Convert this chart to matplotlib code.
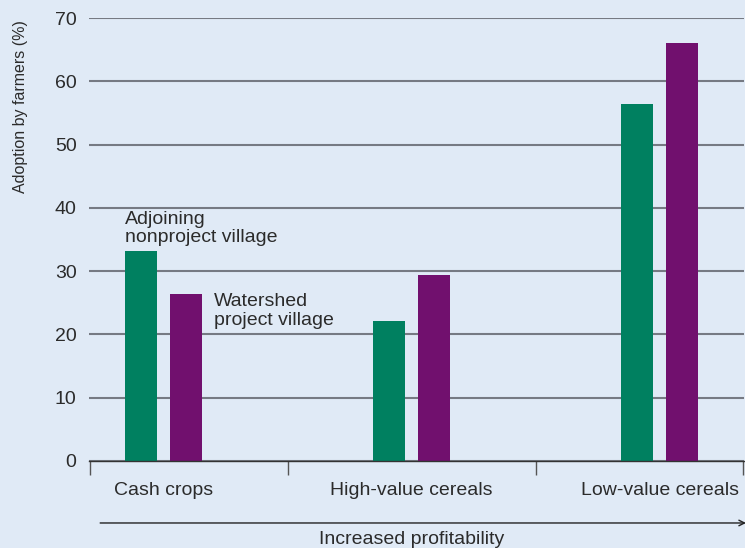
"""
Adoption by farmers (%) in watershed project villages vs adjoining
nonproject villages, grouped by crop type (ordered by profitability).
"""

import matplotlib
matplotlib.use("Agg")
import matplotlib.pyplot as plt
import matplotlib.transforms as mtransforms
import numpy as np

CATEGORIES = ["Cash crops", "High-value cereals", "Low-value cereals"]
NONPROJECT = [33.2, 22.1, 56.4]
PROJECT = [26.4, 29.4, 66.0]
Y_TICKS = [0, 10, 20, 30, 40, 50, 60, 70]

BG = "#e0eaf6"
GREEN = "#008060"
PURPLE = "#71106e"
GRID = "#767a83"
TEXT = "#2b2b2b"


def main() -> None:
    plt.rcParams["font.family"] = ["Liberation Sans", "DejaVu Sans"]
    fig = plt.figure(figsize=(7.45, 5.48), dpi=100, facecolor=BG)
    ax = fig.add_axes([0.1195, 0.1588, 0.8792, 0.8082], facecolor=BG)

    x = np.arange(len(CATEGORIES))
    width = 0.13
    off = 0.09
    ax.bar(x - off, NONPROJECT, width, color=GREEN, zorder=3)
    ax.bar(x + off, PROJECT, width, color=PURPLE, zorder=3)

    ax.set_ylim(0, 70)
    xlim = (-0.3, 2.34)
    ax.set_xlim(*xlim)

    ax.set_yticks(Y_TICKS)
    ax.yaxis.grid(True, color=GRID, linewidth=1.5, zorder=1)
    ax.tick_params(axis="y", length=0, pad=9, labelsize=14, labelcolor=TEXT)
    ax.set_ylabel("Adoption by farmers (%)", fontsize=11.5, color=TEXT)
    ax.yaxis.set_label_coords(-0.093, 0.8)

    for side in ("left", "right", "top"):
        ax.spines[side].set_visible(False)
    ax.spines["bottom"].set_color("#333333")
    ax.spines["bottom"].set_linewidth(1.0)
    ax.spines["bottom"].set_zorder(4)

    # group boundaries as major ticks, category names as minor tick labels
    ax.set_xticks([xlim[0] + 0.002, 0.5, 1.5, xlim[1] - 0.004])
    ax.set_xticklabels([])
    ax.tick_params(axis="x", which="major", length=10, width=1.0, color="#555555",
                   direction="out")
    ax.set_xticks(x, minor=True)
    ax.set_xticklabels(CATEGORIES, minor=True)
    ax.tick_params(axis="x", which="minor", length=0, pad=15, labelsize=14,
                   labelcolor=TEXT)

    # direct labels for the two series
    ax.text(x[0] - off - width / 2, NONPROJECT[0] + 0.7,
            "Adjoining\nnonproject village", ha="left", va="bottom",
            fontsize=14, color=TEXT, linespacing=1.15, zorder=5)
    ax.text(x[0] + off + width / 2 + 0.048, PROJECT[0] + 0.1,
            "Watershed\nproject village", ha="left", va="top",
            fontsize=14, color=TEXT, linespacing=1.15, zorder=5)

    # profitability arrow below the axis
    ax.annotate("", xy=(1.003, -0.14), xytext=(0.017, -0.14),
                xycoords="axes fraction", annotation_clip=False,
                arrowprops=dict(arrowstyle="->", color="#222222", lw=1.0,
                                shrinkA=0, shrinkB=0))
    trans = mtransforms.blended_transform_factory(ax.transData, ax.transAxes)
    ax.text(1.0, -0.177, "Increased profitability", transform=trans,
            ha="center", va="center", fontsize=14, color=TEXT, clip_on=False)

    fig.savefig("out.png", dpi=100, facecolor=BG)
    plt.close(fig)


if __name__ == "__main__":
    main()
